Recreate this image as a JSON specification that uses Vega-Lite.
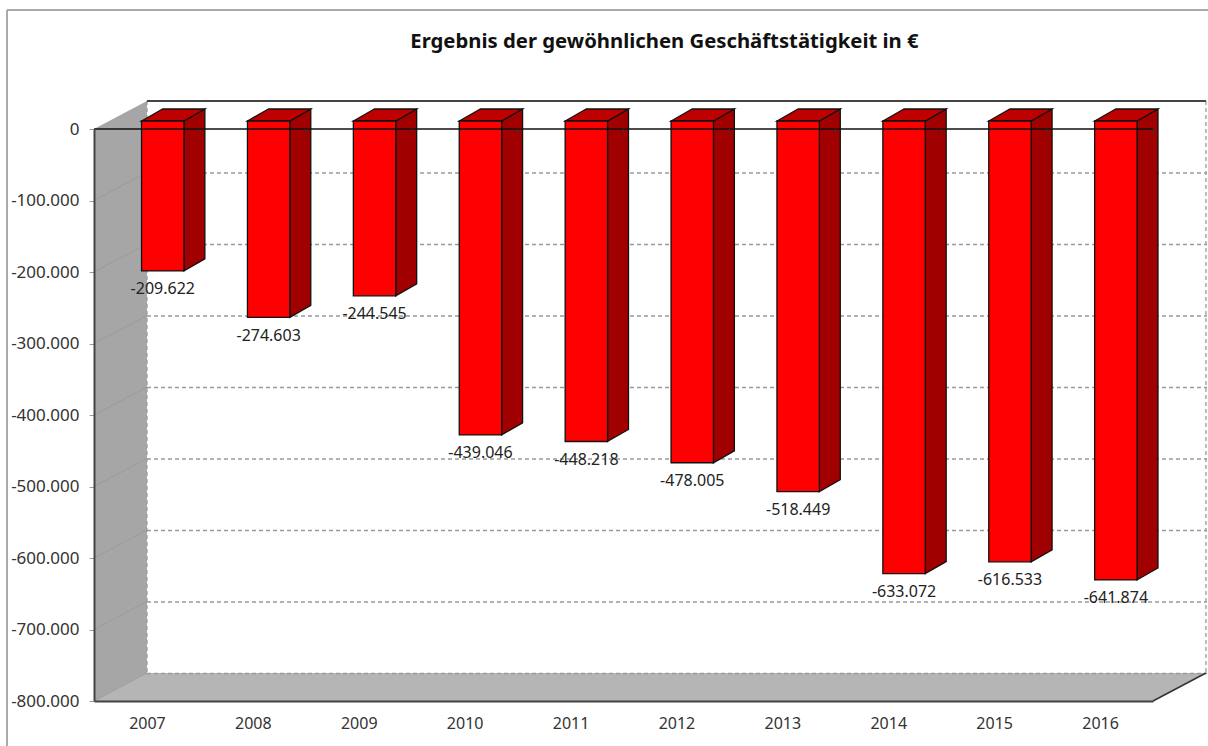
{"$schema":"https://vega.github.io/schema/vega-lite/v6.json","width":1059,"height":572,"autosize":{"type":"none"},"padding":{"left":94,"top":129,"right":55,"bottom":45},"background":"white","config":{"view":{"stroke":null},"font":"Noto Sans"},"title":{"text":"Ergebnis der gewöhnlichen Geschäftstätigkeit in €","font":"Noto Sans","fontSize":20.3,"fontWeight":"bold","color":"#111","anchor":"middle","dx":41,"offset":-43},"datasets":{"bars":[{"year":2007,"value":-209622},{"year":2008,"value":-274603},{"year":2009,"value":-244545},{"year":2010,"value":-439046},{"year":2011,"value":-448218},{"year":2012,"value":-478005},{"year":2013,"value":-518449},{"year":2014,"value":-633072},{"year":2015,"value":-616533},{"year":2016,"value":-641874}],"grid":[{"level":-100000},{"level":-200000},{"level":-300000},{"level":-400000},{"level":-500000},{"level":-600000},{"level":-700000},{"level":-800000}],"wall":[{"x":2006.5,"top":0,"bottom":-800000},{"x":2007,"top":39161,"bottom":-760839}],"floor":[{"y":-800000,"x1":2006.5,"x2":2016.5},{"y":-760839,"x1":2007,"x2":2017}]},"layer":[{"data":{"name":"wall"},"mark":{"type":"area","fill":"#a6a6a6","stroke":null},"encoding":{"x":{"field":"x","type":"quantitative","scale":{"domain":[2006.5,2016.5],"nice":false,"zero":false,"padding":0},"title":null,"axis":{"zindex":1,"values":[2007,2008,2009,2010,2011,2012,2013,2014,2015,2016],"format":"d","ticks":false,"grid":false,"domainColor":"#444","domainWidth":2,"labelFont":"Noto Sans","labelFontSize":16,"labelColor":"#333","labelPadding":14,"labelFlush":false,"labelOverlap":false}},"y":{"field":"top","type":"quantitative","stack":null,"scale":{"domain":[-800000,0],"nice":false,"zero":false,"padding":0},"title":null,"axis":{"zindex":1,"values":[0,-100000,-200000,-300000,-400000,-500000,-600000,-700000,-800000],"labelExpr":"replace(replace(format(datum.value,','),/,/g,'.'),'−','-')","grid":false,"tickColor":"#999","tickSize":5,"domainColor":"#444","domainWidth":2,"labelFont":"Noto Sans","labelFontSize":17,"labelColor":"#333","labelPadding":10,"labelOverlap":false}},"y2":{"field":"bottom"}}},{"data":{"name":"floor"},"mark":{"type":"area","orient":"horizontal","fill":"#b5b5b5","stroke":null},"encoding":{"y":{"field":"y","type":"quantitative","stack":null,"title":null},"x":{"field":"x1","type":"quantitative","title":null},"x2":{"field":"x2"}}},{"data":{"name":"grid"},"mark":{"type":"rule","color":"#9a9a9a","strokeWidth":1.3,"strokeDash":[4,3],"xOffset":53,"x2Offset":54,"yOffset":-27.5},"encoding":{"y":{"field":"level","type":"quantitative","title":null},"x":{"datum":2006.5,"title":null},"x2":{"datum":2016.5}}},{"data":{"name":"grid"},"mark":{"type":"rule","color":"#9b9b9b","strokeWidth":1,"y2Offset":-28},"encoding":{"y":{"field":"level","type":"quantitative","title":null},"y2":{"field":"level"},"x":{"datum":2006.5,"title":null},"x2":{"datum":2007}}},{"data":{"values":[{"edge":2007},{"edge":2017}]},"mark":{"type":"rule","color":"#9a9a9a","strokeWidth":1.3,"strokeDash":[4,3],"yOffset":-28,"y2Offset":-28},"encoding":{"x":{"field":"edge","type":"quantitative","title":null},"y":{"datum":0,"title":null},"y2":{"datum":-800000}}},{"data":{"values":[{"a":1}]},"mark":{"type":"rule","color":"#444","strokeWidth":2,"yOffset":-28,"y2Offset":-28},"encoding":{"x":{"datum":2007,"title":null},"x2":{"datum":2017},"y":{"datum":0,"title":null}}},{"data":{"values":[{"a":1}]},"mark":{"type":"rule","color":"#333","strokeWidth":1.5,"y2Offset":-28},"encoding":{"x":{"datum":2016.5,"title":null},"x2":{"datum":2017},"y":{"datum":-800000,"title":null},"y2":{"datum":-800000}}},{"data":{"values":[{"a":1}]},"mark":{"type":"rule","color":"#aaa","strokeWidth":2,"xOffset":-87,"x2Offset":60,"yOffset":-119},"encoding":{"x":{"datum":2006.5,"title":null},"x2":{"datum":2016.5},"y":{"datum":0,"title":null}}},{"data":{"values":[{"a":1}]},"mark":{"type":"rule","color":"#aaa","strokeWidth":2,"xOffset":-87,"yOffset":-119,"y2Offset":50},"encoding":{"x":{"datum":2006.5,"title":null},"y":{"datum":0,"title":null},"y2":{"datum":-800000}}},{"data":{"name":"bars"},"transform":[{"calculate":"datum.year+0.349","as":"near"},{"calculate":"datum.year+0.547","as":"far"},{"fold":["near","far"],"as":["edge","xp"]},{"calculate":"datum.edge=='far'?27972:11189","as":"yt"},{"calculate":"datum.value+datum.yt","as":"yb"}],"mark":{"type":"area","fill":"#a00000","stroke":"#111","strokeWidth":1.3},"encoding":{"x":{"field":"xp","type":"quantitative","title":null},"y":{"field":"yt","type":"quantitative","stack":null,"title":null},"y2":{"field":"yb"},"detail":{"field":"year"}}},{"data":{"name":"bars"},"transform":[{"calculate":"datum.year-0.051","as":"near"},{"calculate":"datum.year+0.147","as":"far"},{"fold":["near","far"],"as":["edge","xl"]},{"calculate":"datum.xl+0.4","as":"xr"},{"calculate":"datum.edge=='far'?27972:11189","as":"yt"}],"mark":{"type":"area","orient":"horizontal","fill":"#bf0000","stroke":"#111","strokeWidth":1.3},"encoding":{"y":{"field":"yt","type":"quantitative","stack":null,"title":null},"x":{"field":"xl","type":"quantitative","title":null},"x2":{"field":"xr"},"detail":{"field":"year"}}},{"data":{"name":"bars"},"mark":{"type":"bar","orient":"vertical","width":42.4,"fill":"#ff0000","stroke":"#111","strokeWidth":1.3,"xOffset":15.8,"yOffset":-8,"y2Offset":-8},"encoding":{"x":{"field":"year","type":"quantitative","title":null},"y":{"field":"value","type":"quantitative","stack":null,"title":null},"y2":{"datum":0}}},{"data":{"values":[{"a":1}]},"mark":{"type":"rule","color":"#111","strokeWidth":1.5},"encoding":{"x":{"datum":2006.5,"title":null},"x2":{"datum":2016.5},"y":{"datum":0,"title":null}}},{"data":{"name":"bars"},"mark":{"type":"rule","color":"#333","strokeWidth":1,"xOffset":53},"encoding":{"x":{"field":"year","type":"quantitative","title":null},"y":{"datum":0,"title":null},"y2":{"datum":-7000}}},{"data":{"name":"bars"},"transform":[{"calculate":"replace(replace(format(datum.value,','),/,/g,'.'),'−','-')","as":"label"}],"mark":{"type":"text","font":"Noto Sans","fontSize":16,"color":"#222","xOffset":15.8,"yOffset":10.5,"baseline":"middle","align":"center"},"encoding":{"x":{"field":"year","type":"quantitative","title":null},"y":{"field":"value","type":"quantitative","title":null,"stack":null},"text":{"field":"label"}}}]}
